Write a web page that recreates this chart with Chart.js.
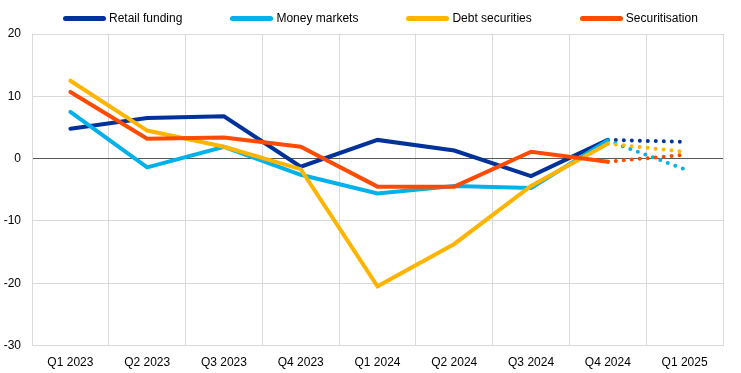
<!DOCTYPE html>
<html>
<head>
<meta charset="utf-8">
<script src="https://cdn.jsdelivr.net/npm/chart.js@4/dist/chart.umd.min.js"></script>
<style>
    body { margin: 0; background: #fff; font-family: 'Liberation Sans', Arial, sans-serif; }
    .wrap { position: relative; width: 741px; height: 373px; }
    .legend {
        position: absolute; top: 11px; left: 63px; height: 14px;
        display: flex; align-items: center; gap: 48px;
        font-size: 12px; color: #000; white-space: nowrap;
    }
    .legend-item { display: flex; align-items: center; }
    .legend-line { width: 43px; height: 5px; border-radius: 3px; margin-right: 3px; }
</style>
</head>
<body>
<div class="wrap">
    <canvas id="chart"></canvas>
    <div class="legend" id="legend"></div>
</div>
<script>
// ===== DATA =====
const quarters = ['Q1 2023', 'Q2 2023', 'Q3 2023', 'Q4 2023', 'Q1 2024',
                  'Q2 2024', 'Q3 2024', 'Q4 2024', 'Q1 2025'];

const retailFunding = [4.8, 6.5, 6.8, -1.3, 3.0, 1.3, -2.8, 3.0, 2.7];
const moneyMarkets = [7.5, -1.4, 1.9, -2.6, -5.6, -4.4, -4.7, 2.9, -1.7];
const debtSecurities = [12.5, 4.5, 1.9, -1.7, -20.5, -13.7, -4.4, 2.4, 1.1];
const securitisation = [10.7, 3.2, 3.4, 1.9, -4.5, -4.5, 1.1, -0.5, 0.6];

const yTicks = [20, 10, 0, -10, -20, -30];

const series = [
    { label: 'Retail funding', data: retailFunding, color: '#003299' },
    { label: 'Money markets', data: moneyMarkets, color: '#00b1ea' },
    { label: 'Debt securities', data: debtSecurities, color: '#ffb400' },
    { label: 'Securitisation', data: securitisation, color: '#ff4b00' },
];

// last segment (Q4 2024 -> Q1 2025) is dotted
const lastIndex = quarters.length - 1;

// ===== LEGEND =====
document.getElementById('legend').innerHTML = series.map(s => `
    <div class="legend-item">
        <span class="legend-line" style="background:${s.color}"></span>
        <span>${s.label}</span>
    </div>
`).join('');

// ===== CHART =====
const font = { family: "'Liberation Sans', Arial, sans-serif", size: 12 };
const gridColor = '#d9d9d9';

new Chart(document.getElementById('chart').getContext('2d'), {
    type: 'line',
    data: {
        labels: quarters,
        datasets: series.map((s, i) => ({
            label: s.label,
            data: s.data,
            borderColor: s.color,
            backgroundColor: s.color,
            borderWidth: 4,
            borderCapStyle: 'round',
            borderJoinStyle: 'miter',
            pointRadius: 0,
            tension: 0,
            order: series.length - i,
            segment: {
                borderDash: ctx => ctx.p1DataIndex === lastIndex ? [0, 8] : undefined
            }
        }))
    },
    options: {
        responsive: true,
        maintainAspectRatio: false,
        animation: false,
        layout: { padding: { top: 34, right: 18, bottom: 0, left: 0 } },
        plugins: {
            legend: { display: false },
            tooltip: { enabled: false }
        },
        scales: {
            x: {
                offset: true,
                grid: {
                    offset: true,
                    color: gridColor,
                    drawTicks: false
                },
                border: { color: gridColor },
                ticks: { color: '#000', font: font, padding: 10, maxRotation: 0 },
                afterFit: s => { s.height = 27.5; }
            },
            y: {
                min: -30,
                max: 20,
                grid: {
                    color: ctx => ctx.tick && ctx.tick.value === 0 ? '#595959' : gridColor,
                    drawTicks: false
                },
                border: { color: gridColor },
                ticks: { color: '#000', font: font, padding: 11, stepSize: 10 },
                afterBuildTicks: s => { s.ticks = yTicks.map(v => ({ value: v })); },
                afterFit: s => { s.width = 32; }
            }
        }
    }
});
</script>
</body>
</html>
